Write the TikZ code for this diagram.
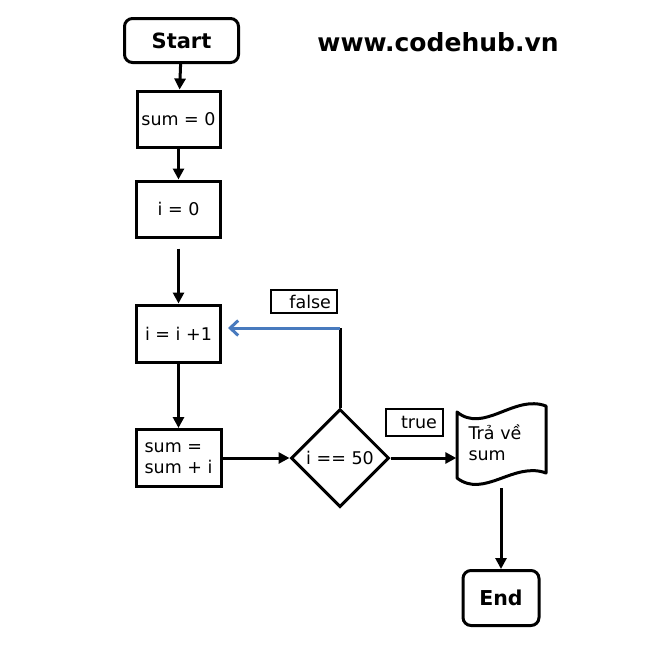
\documentclass[tikz,border=0pt]{standalone}
\usepackage{fontspec}
\setmainfont{DejaVu Sans}
\usetikzlibrary{shapes.geometric,arrows.meta}
\definecolor{loopblue}{RGB}{72,122,190}
\tikzset{
  every node/.style={font=\fontsize{17.5}{21}\selectfont},
  procbox/.style={draw,line width=3pt,minimum width=84pt,minimum height=56pt,inner sep=3pt},
  termbox/.style={draw,line width=3pt,rounded corners=8pt,font=\fontsize{21}{24}\selectfont\bfseries},
  labbox/.style={draw,line width=2.8pt,align=right,inner sep=0pt},
  decbox/.style={draw,diamond,aspect=1,line width=3pt,minimum size=98pt,inner sep=0pt},
  flow/.style={line width=3pt,-{Triangle[width=11pt,length=11pt]}},
  backflow/.style={line width=3pt,draw=loopblue,-{Straight Barb[width=15pt,length=8pt,line width=3pt]}},
}
\begin{document}
\begin{tikzpicture}[x=1pt,y=-1pt]
\useasboundingbox (0,0) rectangle (661,646);
\node[termbox,minimum width=114pt,minimum height=44pt] (start) at (181.5,40.5) {Start};
\node[font=\fontsize{25}{29}\selectfont\bfseries] (web) at (438,42) {www.codehub.vn};
\node[procbox,minimum width=83pt] (s0) at (178.5,119) {sum = 0};
\node[procbox] (i0) at (178.5,209) {i = 0};
\node[procbox,minimum height=57pt] (inc) at (178.5,333.5) {i = i +1};
\node[procbox,minimum width=85pt,minimum height=57pt,align=left] (sumi) at (178.5,458) {sum =\\sum + i};
\node[decbox] (dia) at (340,458) {i == 50};
\node[labbox,minimum width=66pt,minimum height=23pt,text width=54pt] (lfalse) at (304,301.5) {false};
\node[labbox,minimum width=57pt,minimum height=27pt,text width=45pt] (ltrue) at (414.5,422.5) {true};
\node[minimum width=89pt,minimum height=70pt,text width=65pt,align=left,inner sep=12pt] (doc) at (501,443) {Trả về\\sum};
\draw[line width=3pt,line join=round,shift={(doc.center)}]
  (-44,-31) .. controls (-17,-9) and (13,-49) .. (45,-37)
  -- (45,30) .. controls (13,18) and (-17,56) .. (-44,35) -- cycle;
\node[termbox,minimum width=76pt,minimum height=55pt,font=\fontsize{20.5}{24}\selectfont\bfseries] (end) at (501,598) {End};
\coordinate (fc) at (dia.north |- 0,328);
\draw[flow] (start) -- (s0);
\draw[flow] (s0) -- (i0);
\draw[flow,shorten <=10pt] (i0) -- (inc);
\draw[flow] (inc) -- (sumi);
\draw[flow] (sumi.east) -- (dia.west);
\draw[flow] (dia.east) -- (dia.east -| doc.west);
\draw[line width=3pt] (dia.north) -- (fc);
\draw[backflow,shorten >=6pt] (fc) -- (fc -| inc.east);
\draw[flow,shorten <=10pt] (doc.south) -- (end.north);
\end{tikzpicture}
\end{document}
